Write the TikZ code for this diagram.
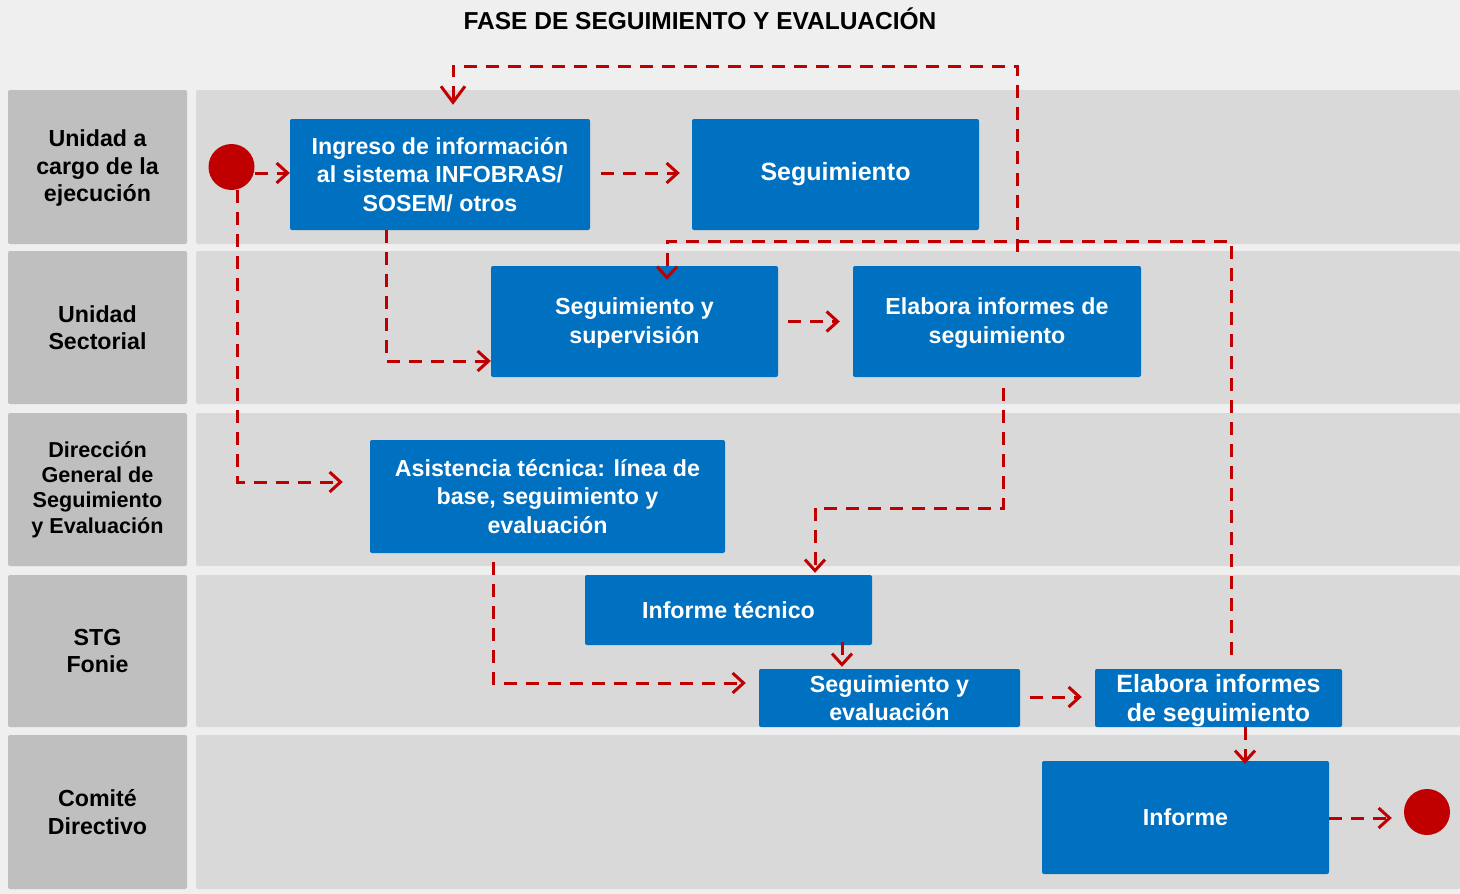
\documentclass[tikz,border=0pt]{standalone}
\usepackage{fontspec}
\setmainfont{Liberation Sans}
\usetikzlibrary{arrows.meta,calc}
\definecolor{bgc}{HTML}{EFEFEF}
\definecolor{lanec}{HTML}{D9D9D9}
\definecolor{labc}{HTML}{BFBFBF}
\definecolor{boxc}{HTML}{0070C0}
\definecolor{redc}{HTML}{C00000}
\begin{document}
\begin{tikzpicture}[x=1pt,y=-1pt,
  lanelab/.style={fill=labc, rounded corners=2pt, minimum width=179pt, inner sep=0pt, align=center, font=\bfseries\fontsize{23.2}{27.5}\selectfont, text=black},
  laneband/.style={fill=lanec, rounded corners=2pt, minimum width=1264pt, inner sep=0pt},
  box/.style={fill=boxc, rounded corners=2pt, inner sep=0pt, align=center, text=white, font=\bfseries\fontsize{23.2}{28.5}\selectfont},
  dot/.style={circle, fill=redc, minimum size=46pt, inner sep=0pt},
  flow/.style={draw=redc, line width=3pt, dash pattern=on 13pt off 9pt, -{Straight Barb[length=11pt,width=20pt,line width=3pt]}},
  bigflow/.style={flow, -{Straight Barb[length=16pt,width=24pt,line width=3pt]}}
]
\useasboundingbox (0,0) rectangle (1460,894);
\fill[bgc] (0,0) rectangle (1460,894);
% title
\node[font=\bfseries\fontsize{24.5}{28}\selectfont] (title) at (700,19) {FASE DE SEGUIMIENTO Y EVALUACIÓN};
% lanes
\node[lanelab, minimum height=154pt, text depth=2.5pt] (l1) at (97.5,167) {Unidad a\\cargo de la\\ejecución};
\node[lanelab, minimum height=153pt] (l2) at (97.5,327.5) {Unidad\\Sectorial};
\node[lanelab, minimum height=153pt, font=\bfseries\fontsize{21.6}{25.3}\selectfont] (l3) at (97.5,489.5) {Dirección\\General de\\Seguimiento\\y Evaluación};
\node[lanelab, minimum height=152pt] (l4) at (97.5,651) {STG\\Fonie};
\node[lanelab, minimum height=154pt] (l5) at (97.5,812) {Comité\\Directivo};
\node[laneband, minimum height=154pt] (r1) at (828,167) {};
\node[laneband, minimum height=153pt] (r2) at (828,327.5) {};
\node[laneband, minimum height=153pt] (r3) at (828,489.5) {};
\node[laneband, minimum height=152pt] (r4) at (828,651) {};
\node[laneband, minimum height=154pt] (r5) at (828,812) {};
% boxes
\node[box, minimum width=300pt, minimum height=111pt] (b1) at (440,174.5) {Ingreso de información\\al sistema INFOBRAS/\\SOSEM/ otros};
\node[box, minimum width=287pt, minimum height=111pt, font=\bfseries\fontsize{25}{28.5}\selectfont] (b2) at (835.5,174.5) {Seguimiento};
\node[box, minimum width=287pt, minimum height=111pt, text depth=1.5pt] (b3) at (634.5,321.5) {Seguimiento y\\supervisión};
\node[box, minimum width=288pt, minimum height=111pt, text depth=1.5pt] (b4) at (997,321.5) {Elabora informes de\\seguimiento};
\node[box, minimum width=355pt, minimum height=113pt] (b5) at (547.5,496.5) {Asistencia técnica: línea de\\base, seguimiento y\\evaluación};
\node[box, minimum width=287pt, minimum height=70pt] (b6) at (728.5,610) {Informe técnico};
\node[box, minimum width=261pt, minimum height=58pt, font=\bfseries\fontsize{23.3}{28}\selectfont] (b7) at (889.5,698) {Seguimiento y\\evaluación};
\node[box, minimum width=247pt, minimum height=58pt, text depth=-0.5pt, font=\bfseries\fontsize{25}{28.5}\selectfont] (b8) at (1218.5,698) {Elabora informes\\de seguimiento};
\node[box, minimum width=287pt, minimum height=113pt, text depth=-3.2pt] (b9) at (1185.5,817.5) {Informe};
% start / end
\node[dot] (s) at (231.5,167) {};
\node[dot] (e) at (1427,812) {};
% helper levels
\coordinate (ytop) at (0,66);
\coordinate (ymid) at (0,241);
\coordinate (y508) at (0,508);
% connectors
\draw[flow] ([yshift=-6pt]s.east) -- ([yshift=-6pt]s.east -| b1.west);
\draw[flow, shorten <=11pt, shorten >=12pt] ([yshift=1.5pt]b1.east) -- ([yshift=1.5pt]b2.west);
\draw[flow, shorten >=27pt] ([xshift=6pt]s.south) |- ([yshift=14.5pt]b5.west);
\draw[flow] ([xshift=-54pt]b1.south) |- ([yshift=-39.5pt]b3.west);
\draw[flow, shorten <=10pt, shorten >=13pt] (b3.east) -- (b4.west);
\draw[bigflow] ([xshift=20pt,yshift=14pt]b4.north) -- ([xshift=20pt]b4.north |- ytop) -| ([xshift=13pt,yshift=14pt]b1.north);
\draw[flow] ([xshift=6pt,yshift=-11pt]b4.south) -- ([xshift=6pt]b4.south |- y508) -| ([xshift=86.5pt,yshift=2pt]b6.north);
\draw[flow, shorten >=13pt] ([xshift=-54.5pt,yshift=-9pt]b5.south) |- ([yshift=15pt]b7.west);
\draw[flow] ([xshift=113.5pt,yshift=3pt]b6.south) -- ([xshift=113.5pt,yshift=2pt]b6.south |- b7.north);
\draw[flow, shorten <=10pt, shorten >=13pt] ([yshift=1pt]b7.east) -- ([yshift=1pt]b8.west);
\draw[flow, shorten >=-3pt] ([xshift=26.5pt]b8.south) -- ([xshift=26.5pt]b8.south |- b9.north);
\draw[flow, shorten >=12pt] ([yshift=-0.5pt]b9.east) -- ([yshift=-0.5pt]b9.east -| e.west);
\draw[flow] ([xshift=12.5pt,yshift=14pt]b8.north) -- ([xshift=12.5pt]b8.north |- ymid) -| ([xshift=32.5pt,yshift=-14pt]b3.north);
\end{tikzpicture}
\end{document}
